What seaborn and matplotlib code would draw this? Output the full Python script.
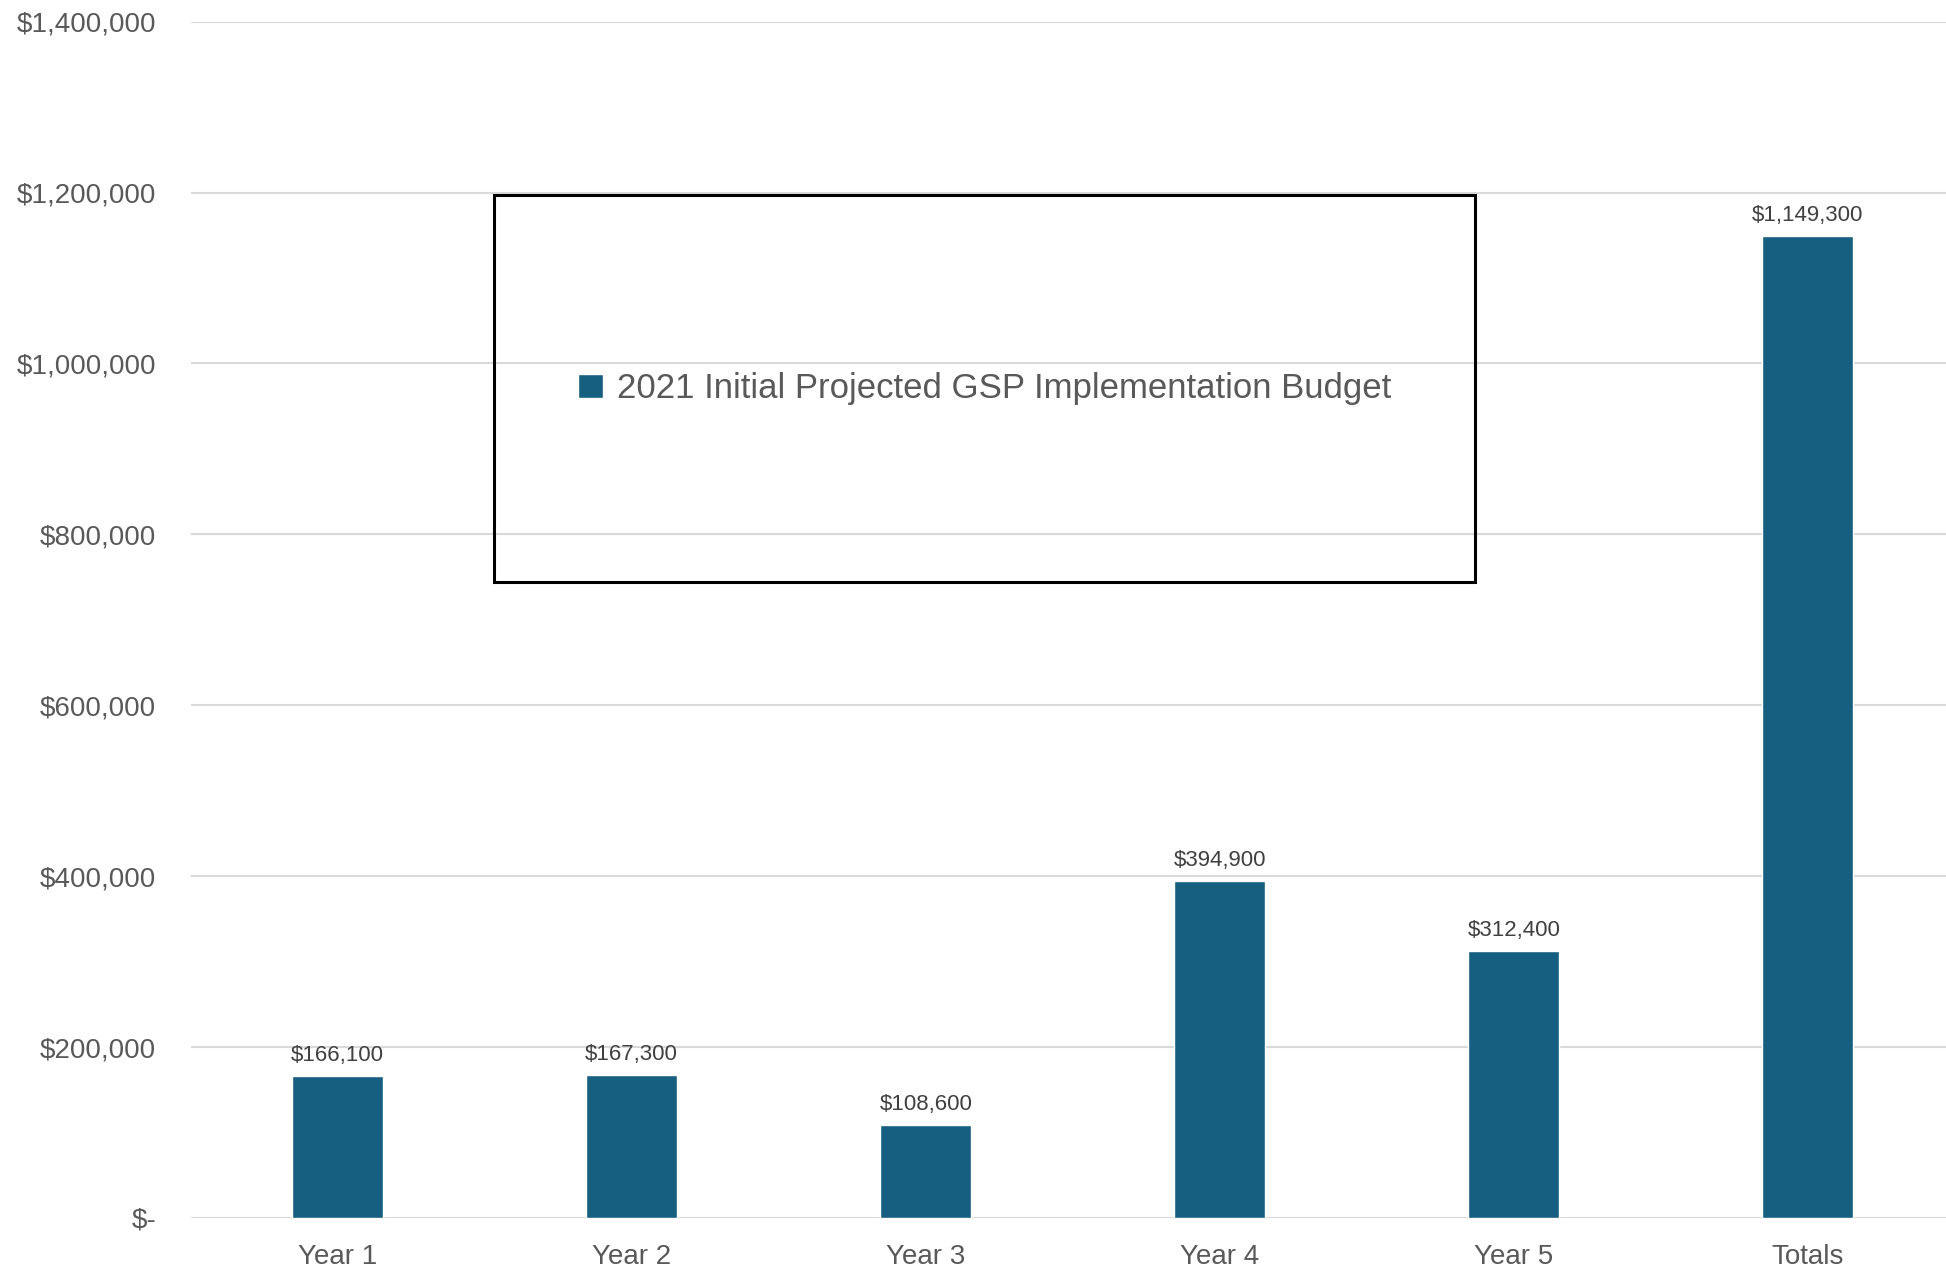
import matplotlib
matplotlib.use("Agg")
import seaborn as sns
import matplotlib.pyplot as plt
from matplotlib.patches import Rectangle
from matplotlib.ticker import FuncFormatter

categories = ["Year 1", "Year 2", "Year 3", "Year 4", "Year 5", "Totals"]
budget = [166100, 167300, 108600, 394900, 312400, 1149300]
series_name = "2021 Initial Projected GSP Implementation Budget"

bar_color = "#175f80"
text_color = "#595959"

sns.set_theme(style="whitegrid")
plt.rcParams["font.family"] = ["Liberation Sans", "DejaVu Sans"]

fig = plt.figure(figsize=(19.46, 12.76), dpi=100)
ax = fig.add_axes([0.098, 0.0455, 0.902, 0.9375])

sns.barplot(x=categories, y=budget, color=bar_color, width=0.31,
            saturation=1, label=series_name, ax=ax)

ax.set_ylim(0, 1400000)
ax.set_xlim(-0.5, 5.47)
ax.set_yticks(range(0, 1400001, 200000))
ax.yaxis.set_major_formatter(FuncFormatter(lambda v, p: "$-" if v == 0 else "${:,.0f}".format(v)))
ax.grid(axis="y", color="#d9d9d9", linewidth=1.5)
ax.grid(axis="x", visible=False)
for s in ax.spines.values():
    s.set_visible(False)
ax.tick_params(axis="y", labelsize=20, labelcolor=text_color, pad=25, length=0)
ax.tick_params(axis="x", labelsize=20, labelcolor=text_color, pad=19, length=0)
ax.set_xlabel("")
ax.set_ylabel("")

ax.bar_label(ax.containers[0], labels=["${:,.0f}".format(v) for v in budget],
             padding=7, fontsize=16, color="#404040")

# big legend box
fig.patches.append(Rectangle((0.254, 0.544), 0.504, 0.303, transform=fig.transFigure,
                             fill=False, edgecolor="black", linewidth=2.2, zorder=5))
leg = ax.legend(loc="center", bbox_to_anchor=(0.254, 0.544, 0.504, 0.303),
                bbox_transform=fig.transFigure, frameon=False,
                prop={"size": 25}, labelcolor=text_color,
                handlelength=0.7, handleheight=0.7, handletextpad=0.4)

plt.savefig("out.png", dpi=100)
